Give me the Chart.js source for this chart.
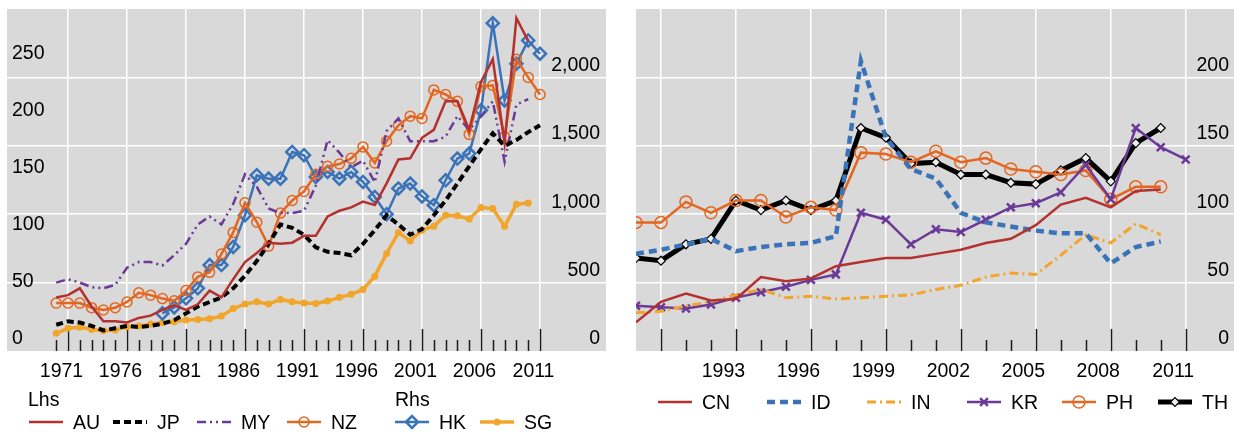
<!DOCTYPE html>
<html>
<head>
<meta charset="utf-8">
<script src="https://cdn.jsdelivr.net/npm/chart.js@4.4.1/dist/chart.umd.min.js"></script>
<style>
  html, body { margin: 0; padding: 0; background: #fff; }
  body { width: 1234px; height: 436px; position: relative; overflow: hidden; }
  canvas { position: absolute; top: 0; }
  #left { left: 0; }
  #right { left: 620px; }
  #legend { position: absolute; left: 0; top: 0; }
</style>
</head>
<body>
<canvas id="left" width="617" height="395"></canvas>
<canvas id="right" width="614" height="395"></canvas>
<svg id="legend" width="1234" height="436" xmlns="http://www.w3.org/2000/svg"></svg>
<script>
const FONT = "'Liberation Sans', Arial, sans-serif"
const FONT_SIZE = 19.5
const GREY = '#d9d9d9'
const RED = '#b3312e'
const ORANGE = '#e4661f'
const PURPLE = '#6b3a97'
const BLUE = '#3b73b9'
const YELLOW = '#f1a52b'

// left panel, 1970-2011
const yearsA = [1970, 1971, 1972, 1973, 1974, 1975, 1976, 1977, 1978, 1979, 1980, 1981, 1982, 1983,
  1984, 1985, 1986, 1987, 1988, 1989, 1990, 1991, 1992, 1993, 1994, 1995, 1996, 1997, 1998, 1999,
  2000, 2001, 2002, 2003, 2004, 2005, 2006, 2007, 2008, 2009, 2010, 2011]
const yearLabelsA = [1971, 1976, 1981, 1986, 1991, 1996, 2001, 2006, 2011]
const lhsTicks = [0, 50, 100, 150, 200, 250]
const rhsTicks = [0, 500, 1000, 1500, 2000]

// Lhs
const AU = [47, 49, 55, 39, 26, 26, 25, 29, 31, 36, 40, 36, 41, 53, 47, 63, 78, 86, 95, 94, 95, 101,
  101, 118, 123, 126, 131, 128, 147, 168, 169, 187, 194, 219, 219, 194, 236, 256, 182, 292, 272, null]
const JP = [23, 26, 25, 22, 18, 20, 22, 21, 22, 24, 27, 33, 39, 43, 47, 55, 66, 79, 94, 111, 108, 102,
  91, 87, 86, 84, 94, 106, 119, 111, 102, 107, 119, 132, 147, 162, 177, 191, 180, 185, 192, 198]
const MY = [60, 63, 60, 56, 55, 58, 73, 78, 78, 75, 84, 94, 111, 118, 111, 129, 155, 144, 125, 121, 121, 123,
  145, 185, 174, 161, 167, 148, 193, 204, 184, 184, 184, 188, 206, 194, 206, 219, 166, 216, 221, null]
const NZ = [42, 42, 42, 38, 36, 38, 43, 51, 49, 46, 44, 53, 65, 69, 85, 104, 130, 113, 92, 121, 132, 140,
  155, 162, 164, 169, 179, 165, 184, 198, 206, 204, 229, 225, 219, 190, 232, 233, 188, 256, 240, 225]
// Rhs
const HK = [null, null, null, null, null, null, null, null, null, 275, 319, 385, 458, 628, 628, 761, 993,
  1285, 1260, 1260, 1455, 1431, 1272, 1309, 1260, 1309, 1236, 1126, 1000, 1188, 1224, 1130, 1066, 1248,
  1407, 1443, 1759, 2396, 1832, 2100, 2270, 2173]
const SG = [129, 166, 173, 158, 148, 153, 178, 182, 197, 207, 214, 226, 231, 236, 255, 311, 343, 360, 343,
  377, 360, 350, 348, 365, 392, 414, 450, 547, 713, 866, 805, 883, 912, 993, 988, 964, 1049, 1041, 912,
  1073, 1082, null]

// right panel, 1989-2011
const yearsB = [1989, 1990, 1991, 1992, 1993, 1994, 1995, 1996, 1997, 1998, 1999, 2000, 2001, 2002,
  2003, 2004, 2005, 2006, 2007, 2008, 2009, 2010, 2011]
const yearGridB = [1990, 1993, 1996, 1999, 2002, 2005, 2008, 2011]
const yearLabelsB = [1993, 1996, 1999, 2002, 2005, 2008, 2011]
const ticksB = [0, 50, 100, 150, 200]

const CN = [21, 36, 42, 37, 38, 54, 51, 53, 62, 65, 68, 68, 71, 74, 79, 82, 92, 107, 112, 105, 117, 118, null]
const ID = [71, 74, 78, 82, 73, 76, 78, 79, 84, 212, 156, 133, 126, 101, 94, 91, 88, 86, 86, 64, 76, 80, null]
const IN = [28, 29, 33, 36, 41, 45, 39, 40, 38, 39, 40, 41, 45, 48, 54, 57, 56, 70, 85, 79, 93, 85, null]
const KR = [33, 32, 31, 34, 39, 43, 47, 52, 56, 101, 96, 78, 89, 87, 96, 105, 108, 116, 136, 111, 163, 149, 140]
const PH = [94, 94, 109, 101, 110, 110, 98, 105, 103, 145, 144, 138, 146, 138, 141, 133, 131, 129, 132, 111, 120, 120, null]
const TH = [68, 66, 78, 82, 110, 103, 110, 103, 110, 163, 156, 137, 138, 129, 129, 123, 122, 132, 141, 124, 152, 163, null]

const font = { family: FONT, size: FONT_SIZE }

// grey plot area + year tick marks standing up from the bottom edge
const panelPlugin = {
  id: 'panel',
  beforeDraw(chart) {
    const { ctx, chartArea: a } = chart
    ctx.save()
    ctx.fillStyle = GREY
    ctx.fillRect(a.left, a.top, a.right - a.left, a.bottom - a.top)
    ctx.restore()
  },
  beforeDatasetsDraw(chart, args, opts) {
    const { ctx, chartArea: a, scales } = chart
    ctx.save()
    ctx.strokeStyle = '#1a1a1a'
    ctx.lineWidth = 1.5
    for (let yr = opts.from; yr <= opts.to; yr++) {
      const px = Math.round(scales.x.getPixelForValue(yr)) + 0.5
      const len = (yr - opts.majorFrom) % opts.majorStep === 0 ? 22 : 11
      ctx.beginPath()
      ctx.moveTo(px, a.bottom)
      ctx.lineTo(px, a.bottom - len)
      ctx.stroke()
    }
    ctx.restore()
  },
}

const xAxis = (min, max, gridYears, labelYears, offset) => ({
  type: 'linear',
  min,
  max,
  afterBuildTicks: (s) => { s.ticks = gridYears.map((value) => ({ value })) },
  afterFit: (s) => { s.height = 44; s.paddingLeft = 0; s.paddingRight = 0 },
  grid: { color: '#fff', lineWidth: 1.5, drawTicks: false },
  border: { display: false },
  ticks: {
    autoSkip: false, maxRotation: 0, padding: 9, labelOffset: offset, color: '#000', font,
    callback: (v) => (labelYears.includes(v) ? String(v) : ''),
  },
})

const yAxis = (position, max, tickValues, showGrid, pad, fmt) => ({
  position,
  min: 0,
  max,
  afterBuildTicks: (s) => { s.ticks = tickValues.map((value) => ({ value })) },
  afterFit: (s) => { s.width = 0; s.paddingTop = 0; s.paddingBottom = 0 },
  grid: showGrid
    ? { color: (c) => (c.tick && c.tick.value === 0 ? 'rgba(0,0,0,0)' : '#fff'), lineWidth: 1.5, drawTicks: false }
    : { display: false },
  border: { display: false },
  ticks: { mirror: true, padding: pad, labelOffset: -12, color: '#000', font, callback: fmt },
})

const series = (label, values, years, color, width, extra = {}) => ({
  label,
  data: years.map((x, i) => ({ x, y: values[i] })),
  borderColor: color,
  backgroundColor: color,
  borderWidth: width,
  pointRadius: 0,
  pointHoverRadius: 0,
  tension: 0,
  borderCapStyle: 'butt',
  ...extra,
})

const hollow = (style, r, color, w, fill = 'rgba(0,0,0,0)') => ({
  pointStyle: style, pointRadius: r, pointBorderWidth: w, pointBorderColor: color, pointBackgroundColor: fill,
})

const leftSets = [
  series('AU', AU, yearsA, RED, 2.5, { yAxisID: 'lhs' }),
  series('JP', JP, yearsA, '#000', 4, { yAxisID: 'lhs', borderDash: [7, 4] }),
  series('MY', MY, yearsA, PURPLE, 2.5, { yAxisID: 'lhs', borderDash: [9, 4, 2, 4, 2, 4] }),
  series('NZ', NZ, yearsA, ORANGE, 2.5, { yAxisID: 'lhs', ...hollow('circle', 5, ORANGE, 1.5) }),
  series('HK', HK, yearsA, BLUE, 2.5, { yAxisID: 'rhs', ...hollow('rectRot', 6, BLUE, 2.5) }),
  series('SG', SG, yearsA, YELLOW, 3.5, { yAxisID: 'rhs', pointStyle: 'circle', pointRadius: 3.5, pointBorderWidth: 0, pointBackgroundColor: YELLOW }),
]

const rightSets = [
  series('CN', CN, yearsB, RED, 2.5),
  series('ID', ID, yearsB, BLUE, 4.5, { borderDash: [8, 5] }),
  series('IN', IN, yearsB, YELLOW, 3, { borderDash: [9, 4, 2, 4] }),
  series('KR', KR, yearsB, PURPLE, 2.5, { ...hollow('crossRot', 5.5, PURPLE, 2.5) }),
  series('PH', PH, yearsB, ORANGE, 2.5, { ...hollow('circle', 6, ORANGE, 1.5) }),
  series('TH', TH, yearsB, '#000', 5, { ...hollow('rectRot', 4.5, '#000', 1.2, '#eeeeee') }),
]

const common = {
  responsive: false,
  animation: false,
  devicePixelRatio: 1,
  events: [],
}

new Chart(document.getElementById('left'), {
  type: 'line',
  data: { datasets: leftSets },
  plugins: [panelPlugin],
  options: {
    ...common,
    layout: { autoPadding: false, padding: { left: 7, right: 11, top: 9, bottom: 0 } },
    scales: {
      x: xAxis(1971 - 61 / 11.8, 1971 + 538 / 11.8, yearLabelsA, yearLabelsA, -6.5),
      lhs: yAxis('left', 300, lhsTicks, false, 5, (v) => String(v)),
      rhs: yAxis('right', 2500, rhsTicks, true, -6, (v) => v.toLocaleString('en-US')),
    },
    plugins: {
      legend: { display: false },
      tooltip: { enabled: false },
      panel: { from: 1970, to: 2011, majorFrom: 1971, majorStep: 5 },
    },
  },
})

new Chart(document.getElementById('right'), {
  type: 'line',
  data: { datasets: rightSets },
  plugins: [panelPlugin],
  options: {
    ...common,
    layout: { autoPadding: false, padding: { left: 16, right: 0, top: 9, bottom: 0 } },
    scales: {
      x: xAxis(1989, 1990 + 573.3 / 25, yearGridB, yearLabelsB, -12.5),
      y: yAxis('right', 250, ticksB, true, -5, (v) => String(v)),
    },
    plugins: {
      legend: { display: false },
      tooltip: { enabled: false },
      panel: { from: 1990, to: 2011, majorFrom: 1990, majorStep: 3 },
    },
  },
})

// legend, drawn from the dataset styles
const svg = document.getElementById('legend')
const NS = 'http://www.w3.org/2000/svg'
const el = (tag, attrs) => {
  const e = document.createElementNS(NS, tag)
  Object.entries(attrs).forEach(([k, v]) => e.setAttribute(k, v))
  svg.appendChild(e)
  return e
}
const text = (str, x, y) => {
  const t = el('text', { x, y, 'font-family': FONT, 'font-size': FONT_SIZE, fill: '#000', 'dominant-baseline': 'central' })
  t.textContent = str
}
const legendItem = (ds, x, y) => {
  el('line', {
    x1: x, y1: y, x2: x + 34, y2: y, stroke: ds.borderColor, 'stroke-width': ds.borderWidth,
    'stroke-dasharray': ds.borderDash ? ds.borderDash.join(' ') : 'none',
  })
  const cx = x + 17
  const r = ds.pointRadius
  const st = { stroke: ds.pointBorderColor, 'stroke-width': ds.pointBorderWidth, fill: ds.pointBackgroundColor }
  if (r && ds.pointStyle === 'circle') el('circle', { cx, cy: y, r, ...st })
  if (r && ds.pointStyle === 'rectRot') el('polygon', { points: `${cx - r},${y} ${cx},${y - r} ${cx + r},${y} ${cx},${y + r}`, ...st })
  if (r && ds.pointStyle === 'crossRot') {
    const d = r * Math.SQRT1_2
    el('path', { d: `M${cx - d},${y - d}L${cx + d},${y + d}M${cx - d},${y + d}L${cx + d},${y - d}`, ...st, fill: 'none' })
  }
  text(ds.label, x + 44, y)
}

text('Lhs', 28, 399)
text('Rhs', 395, 399)
;[29, 113, 197, 287, 395, 480].forEach((x, i) => legendItem(leftSets[i], x, 422))
;[658, 767, 867, 967, 1062, 1158].forEach((x, i) => legendItem(rightSets[i], x, 402))
</script>
</body>
</html>
